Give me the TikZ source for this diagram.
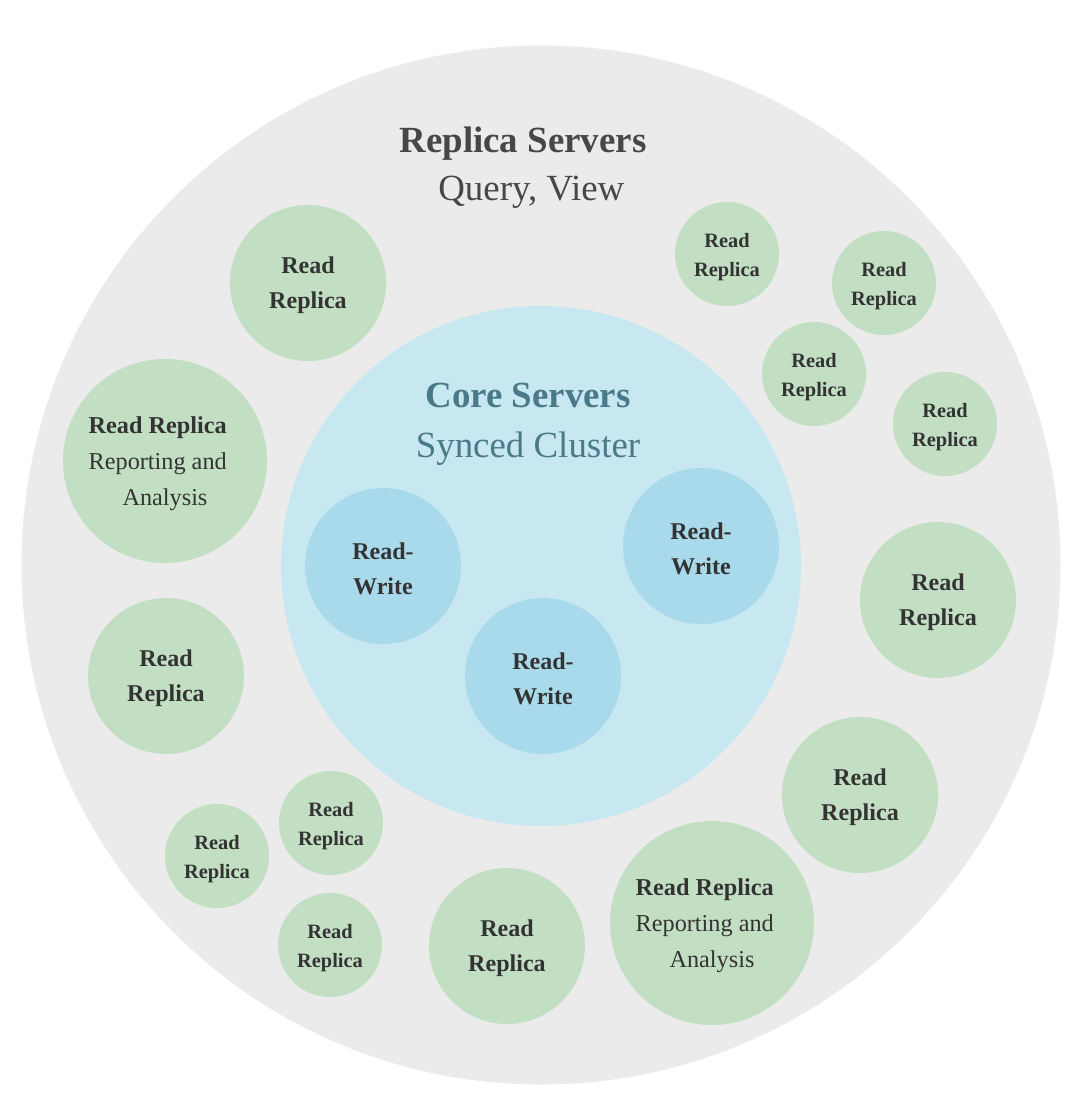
\documentclass[tikz,border=0pt]{standalone}
\usepackage{fontspec}
\setmainfont{Liberation Serif}
\definecolor{ringgray}{HTML}{EBEBEB}
\definecolor{coreblue}{HTML}{C7E7F1}
\definecolor{rwblue}{HTML}{A9DAEB}
\definecolor{replgreen}{HTML}{C3DFC3}
\definecolor{titlegray}{HTML}{474747}
\definecolor{coretext}{HTML}{4A7A89}
\definecolor{nodetext}{HTML}{333333}
\begin{document}
\begin{tikzpicture}[x=0.02cm, y=-0.02cm,
  disc/.style={circle, inner sep=0pt, draw=none, text=nodetext, align=center},
  bigrep/.style={disc, fill=replgreen, minimum size=204*0.02cm, font=\fontsize{13.8}{20.4}\selectfont},
  midrep/.style={disc, fill=replgreen, minimum size=156*0.02cm, font=\fontsize{13.7}{19.8}\selectfont\bfseries},
  smallrep/.style={disc, fill=replgreen, minimum size=104*0.02cm, font=\fontsize{11.6}{16.4}\selectfont\bfseries},
  rw/.style={disc, fill=rwblue, minimum size=156*0.02cm, font=\fontsize{13.7}{19.8}\selectfont\bfseries},
  lbl/.style={inner sep=0pt, text=nodetext, align=center}]
\useasboundingbox (0,0) rectangle (1090,1100);
% rings
\node[disc, fill=ringgray, minimum size=1039*0.02cm] (ring) at (541,565) {};
\node[disc, fill=coreblue, minimum size=520*0.02cm] (core) at (541,566) {};
% titles
\node[text=titlegray, align=center, font=\fontsize{21}{27.5}\selectfont] (rstitle) at (523,168)
  {\textbf{Replica Servers}\\\hspace*{0.45em}Query, View};
\node[text=coretext, align=center, font=\fontsize{21}{28.5}\selectfont] (coretitle) at (528,424)
  {\textbf{Core Servers}\\Synced Cluster};
% read-write members
\node[rw] (rwa) at (383,566) {};
\node[rw] (rwb) at (701,546) {};
\node[rw] (rwc) at (543,676) {};
\foreach \n in {rwa,rwb,rwc}
  \node[lbl, font=\fontsize{13.7}{19.8}\selectfont\bfseries] at ([yshift=-2.5*0.02cm]\n.center) {Read-\\Write};
% read replicas
\node[midrep] (rep1) at (308,283) {};
\node[bigrep] (rep2) at (165,461) {};
\node[midrep] (rep3) at (166,676) {};
\node[smallrep] (rep4) at (727,254) {};
\node[smallrep] (rep5) at (884,283) {};
\node[smallrep] (rep6) at (814,374) {};
\node[smallrep] (rep7) at (945,424) {};
\node[midrep] (rep8) at (938,600) {};
\node[midrep] (rep9) at (860,795) {};
\node[bigrep] (rep10) at (712,923) {};
\node[midrep] (rep11) at (507,946) {};
\node[smallrep] (rep12) at (331,823) {};
\node[smallrep] (rep13) at (217,856) {};
\node[smallrep] (rep14) at (330,945) {};
% labels
\foreach \n in {rep1,rep3,rep8,rep9,rep11}
  \node[lbl, font=\fontsize{13.7}{19.8}\selectfont\bfseries] at ([yshift=-2.5*0.02cm]\n.center) {Read\\Replica};
\foreach \n in {rep4,rep5,rep6,rep7,rep12,rep13,rep14}
  \node[lbl, font=\fontsize{11.6}{16.4}\selectfont\bfseries] at ([yshift=-3*0.02cm]\n.center) {Read\\Replica};
\foreach \n in {rep2,rep10}
  \node[lbl, font=\fontsize{13.8}{20.4}\selectfont] at ([yshift=-3*0.02cm]\n.center)
    {\textbf{Read Replica}\rule{0.6em}{0pt}\\Reporting and\rule{0.6em}{0pt}\\Analysis};
\end{tikzpicture}
\end{document}
